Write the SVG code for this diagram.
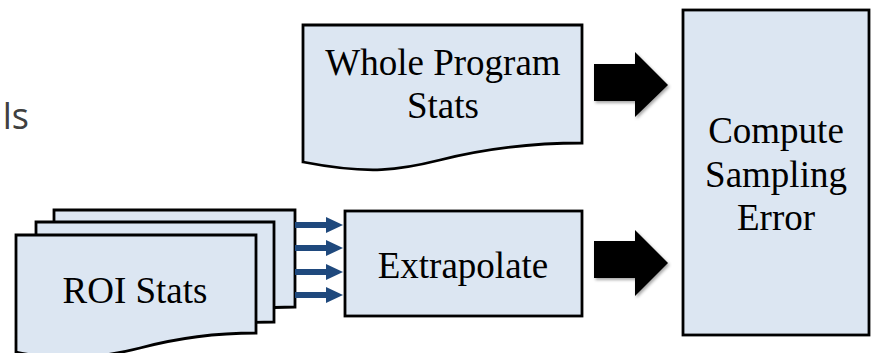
<svg xmlns="http://www.w3.org/2000/svg" width="873" height="353" viewBox="0 0 873 353">
  <style>
    .box { fill: #dce6f2; stroke: #000000; stroke-width: 2.8; stroke-linejoin: miter; }
    .lbl { font-family: "Liberation Serif", "Times New Roman", serif; font-size: 37px; fill: #000000; text-anchor: middle; }
    .side { font-family: "Open Sans", "Liberation Sans", sans-serif; font-size: 36px; fill: #404040; }
    .blue { fill: #1f497d; }
    .blk { fill: #000000; }
  </style>
  <defs>
    <filter id="sh" x="-20%" y="-20%" width="150%" height="150%">
      <feDropShadow dx="1.5" dy="2" stdDeviation="1.5" flood-color="#000000" flood-opacity="0.35"/>
    </filter>
  </defs>

  <text class="side" x="29" y="129" text-anchor="end">ls</text>

  <g id="whole-program-stats">
    <path class="box" d="M303,25 H582 V143 C530,143 480,150 440,160 C400,170 370,175 303,162 Z"/>
    <text class="lbl" x="443" y="75">Whole Program</text>
    <text class="lbl" x="443" y="118">Stats</text>
  </g>

  <g id="roi-stats">
    <path class="box" d="M54,210 H295 V307 C250,307 210,313 180,320 C140,330 100,335 54,325 Z"/>
    <path class="box" d="M36,222 H274 V322 C230,322 190,328 160,335 C120,345 80,350 36,340 Z"/>
    <path class="box" d="M16,235 H256 V333 C210,333 170,340 140,348 C100,358 60,362 16,352 V360 H16 Z"/>
    <text class="lbl" x="135" y="303">ROI Stats</text>
  </g>

  <g id="extrapolate">
    <rect class="box" x="345" y="211" width="237" height="105"/>
    <text class="lbl" x="463" y="278">Extrapolate</text>
  </g>

  <g id="compute-sampling-error">
    <rect class="box" x="683" y="10" width="186" height="325"/>
    <text class="lbl" x="776" y="143">Compute</text>
    <text class="lbl" x="776" y="186.5">Sampling</text>
    <text class="lbl" x="776" y="230">Error</text>
  </g>

  <g id="connectors">
    <path class="blue" d="M295,222 H326 V217 L343,225 L326,233 V228 H295 Z"/>
    <path class="blue" d="M295,245 H326 V240 L343,248 L326,256 V251 H295 Z"/>
    <path class="blue" d="M295,269 H326 V264 L343,272 L326,280 V275 H295 Z"/>
    <path class="blue" d="M295,292 H326 V287 L343,295 L326,303 V298 H295 Z"/>
    <path class="blk" filter="url(#sh)" d="M594,64 H635 V52 L668,85 L635,117 V101 H594 Z"/>
    <path class="blk" filter="url(#sh)" d="M594,241 H635 V230 L668,263 L635,296 V278 H594 Z"/>
  </g>
</svg>
